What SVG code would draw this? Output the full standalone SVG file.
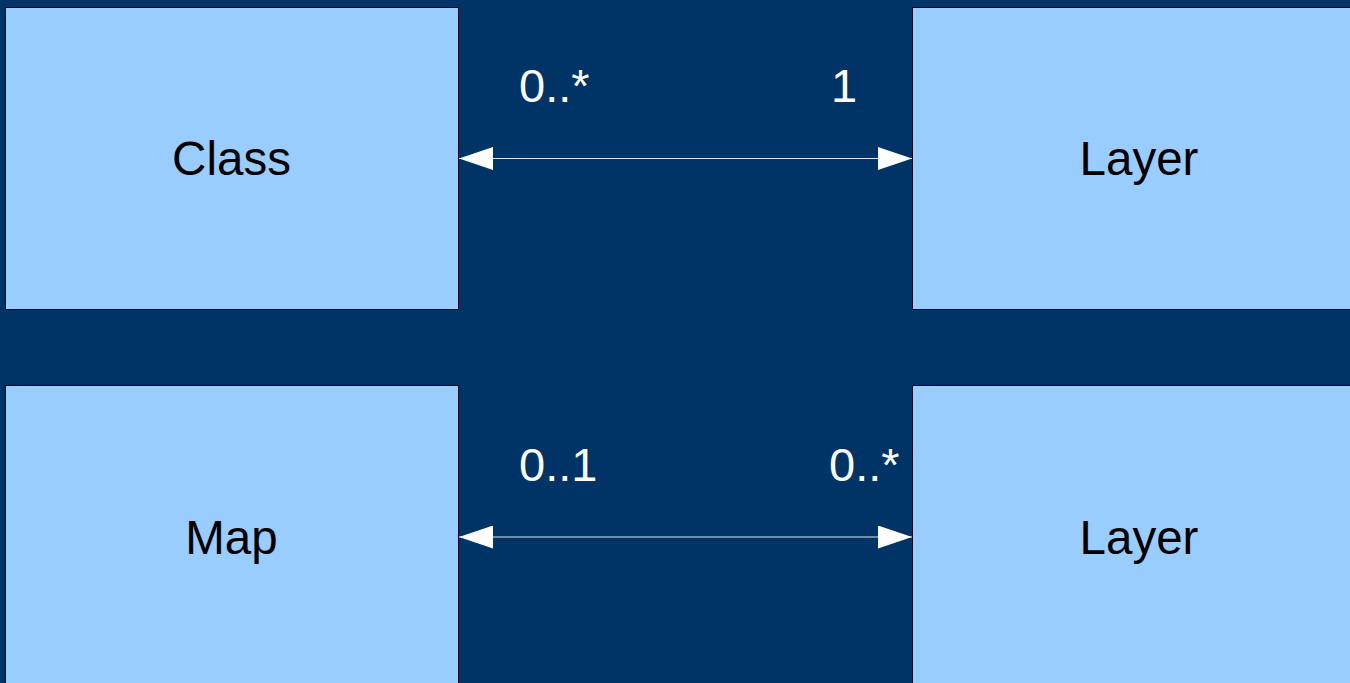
<svg xmlns="http://www.w3.org/2000/svg" width="1350" height="683" viewBox="0 0 1350 683">
  <style>
    .box { fill: #99ccff; stroke: #000814; stroke-width: 1; }
    .name { font-family: "Liberation Sans", Arial, sans-serif; font-size: 47.5px; fill: #000; text-anchor: middle; }
    .mult { font-family: "Liberation Sans", Arial, sans-serif; font-size: 47px; fill: #ffffff; }
    .assoc { stroke: #dde6f0; stroke-width: 1.2; fill: none; marker-start: url(#head); marker-end: url(#head); }
  </style>
  <defs>
    <marker id="head" viewBox="0 0 34 23" refX="34" refY="11.5" markerWidth="34" markerHeight="23" markerUnits="userSpaceOnUse" orient="auto-start-reverse">
      <path d="M0,0 L34,11.5 L0,23 Z" fill="#ffffff"/>
    </marker>
  </defs>
  <rect width="1350" height="683" fill="#003366"/>

  <g id="class-box">
    <rect class="box" x="5.5" y="7.5" width="453" height="302"/>
    <text class="name" x="231.5" y="175">Class</text>
  </g>
  <g id="layer-box-top">
    <rect class="box" x="912.5" y="7.5" width="456" height="302"/>
    <text class="name" x="1139" y="175">Layer</text>
  </g>
  <g id="map-box">
    <rect class="box" x="5.5" y="385.5" width="453" height="310"/>
    <text class="name" x="231.5" y="554">Map</text>
  </g>
  <g id="layer-box-bottom">
    <rect class="box" x="912.5" y="385.5" width="456" height="310"/>
    <text class="name" x="1139" y="554">Layer</text>
  </g>

  <g id="connectors">
    <line class="assoc" x1="459" y1="158.5" x2="912" y2="158.5"/>
    <line class="assoc" x1="459" y1="537" x2="912" y2="537"/>
  </g>

  <g id="multiplicities">
    <text class="mult" x="519" y="102">0..*</text>
    <text class="mult" x="831" y="102">1</text>
    <text class="mult" x="519" y="481">0..1</text>
    <text class="mult" x="829" y="481">0..*</text>
  </g>
</svg>
